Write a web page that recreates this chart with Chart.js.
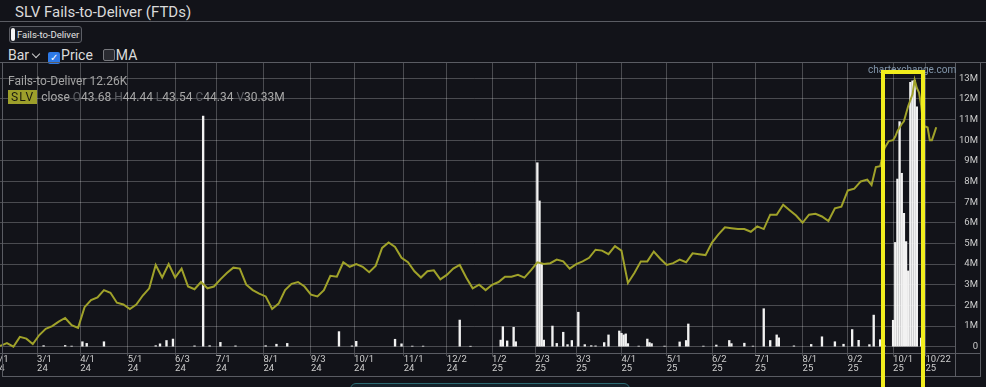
<!DOCTYPE html>
<html>
<head>
<meta charset="utf-8">
<title>SLV Fails-to-Deliver (FTDs)</title>
<script src="https://cdn.jsdelivr.net/npm/chart.js@4.4.1/dist/chart.umd.min.js"></script>
<style>
  body { margin: 0; width: 986px; height: 387px; overflow: hidden; position: relative;
         background: #121319; font-family: Roboto, Arial, sans-serif; color: #d4d4d4; }
  .abs { position: absolute; white-space: nowrap; }
  .ln { position: absolute; background: #5a5c63; }
  #title { left: 15px; top: 3px; font-size: 15px; color: #dadada; }
  #btn { left: 9px; top: 26px; width: 73px; height: 17px; box-sizing: border-box; border: 1px solid #5c5e65;
         border-radius: 3px; background: #1a1c23; font-size: 9.5px; line-height: 15px; padding-left: 7px; color: #e4e4e4; }
  #btn i { position: absolute; left: 1px; top: 1px; width: 4px; height: 13px; background: #f4f4f4; border-radius: 2px; }
  #ctrl { left: 8px; top: 47px; font-size: 14px; line-height: 16px; color: #dcdcdc; }
  .chev { display: inline-block; width: 5px; height: 5px; border-right: 1px solid #ccc; border-bottom: 1px solid #ccc;
          transform: rotate(45deg); margin: 0 9px 3px 4px; }
  .box { display: inline-block; width: 12px; height: 12px; box-sizing: border-box; border-radius: 2px; vertical-align: -1px; }
  .on { background: #2d79e6; color: #fff; font-size: 10px; line-height: 12px; text-align: center; margin-right: 1px; }
  .off { background: #2a2b31; border: 1px solid #77787d; margin-left: 10px; margin-right: 1px; }
  #chart { position: absolute; left: -6px; top: 62px; }
  #leg1 { left: 8px; top: 74px; font-size: 12px; color: #a4a4a4; }
  #leg2 { left: 8px; top: 90px; font-size: 12px; color: #a8a8a8; }
  #leg2 .tag { display: inline-block; background: #9d9f2b; color: #1b1b10; padding: 0 3px; height: 14px; line-height: 14px;
               letter-spacing: 1px; margin-right: 4px; }
  #leg2 b { font-weight: normal; color: #5e6066; }
  #wm { left: 868px; top: 64px; font-size: 10px; color: #8296aa; }
  #hl { left: 881px; top: 70px; width: 44px; height: 330px; box-sizing: border-box; border: 4px solid #f1ed1d; border-bottom: none; }
  #pager { left: 350px; top: 383px; width: 280px; height: 12px; box-sizing: border-box; border: 1px solid #2b6a72;
           border-radius: 6px; background: #14222a; }
</style>
</head>
<body>
<div id="title" class="abs">SLV Fails-to-Deliver (FTDs)</div>
<div class="ln" style="left:0;top:21px;width:986px;height:1px"></div>
<div id="btn" class="abs"><i></i>Fails-to-Deliver</div>
<div id="ctrl" class="abs">Bar<span class="chev"></span><span class="box on">&#10003;</span>Price<span class="box off"></span>MA</div>
<canvas id="chart" width="984" height="315"></canvas>
<!-- chart frame -->
<div class="ln" style="left:0;top:62px;width:986px;height:1px"></div>
<div class="ln" style="left:0;top:353px;width:981px;height:1px"></div>
<div class="ln" style="left:2px;top:376px;width:979px;height:1px"></div>
<div class="ln" style="left:2px;top:62px;width:1px;height:315px"></div>
<div class="ln" style="left:955px;top:62px;width:1px;height:315px"></div>
<div class="ln" style="left:980px;top:62px;width:1px;height:315px"></div>
<div id="leg1" class="abs">Fails-to-Deliver 12.26K</div>
<div id="leg2" class="abs"><span class="tag">SLV</span>close <b>O</b>43.68 <b>H</b>44.44 <b>L</b>43.54 <b>C</b>44.34 <b>V</b>30.33M</div>
<div id="wm" class="abs">chartexchange.com</div>
<div id="hl" class="abs"></div>
<div id="pager" class="abs"></div>
<script>
// x positions are trading-day indexes counted from 2024-02-01
const tickIdx = [0, 20, 40, 62, 84, 103, 125, 147, 167, 190, 210, 231, 251, 270, 291, 312, 333, 353, 375, 396, 417, 432];
const tickDates = ['2/1', '3/1', '4/1', '5/1', '6/3', '7/1', '8/1', '9/3', '10/1', '11/1', '12/2',
                   '1/2', '2/3', '3/3', '4/1', '5/1', '6/2', '7/1', '8/1', '9/2', '10/1', '10/22'];
const tickYears = ['24', '24', '24', '24', '24', '24', '24', '24', '24', '24', '24',
                   '25', '25', '25', '25', '25', '25', '25', '25', '25', '25', '25'];
const ftdTicks = [0, 1, 2, 3, 4, 5, 6, 7, 8, 9, 10, 11, 12, 13];

// fails-to-deliver, millions of shares
const ftdIdx = [23, 33, 36, 41, 43, 51, 75, 77, 80, 83, 93, 97, 100, 105, 112, 126, 131, 136,
                160, 166, 168, 186, 189, 194, 199, 216, 221, 235, 236, 238, 241, 242,
                252, 253, 254, 255, 259, 261, 264, 266, 268, 271, 274, 277, 279, 283, 285,
                290, 291, 292, 293, 294, 299, 303, 304, 305, 311, 318, 321, 322, 329, 335,
                341, 342, 348, 352, 357, 360, 363, 364, 371, 379, 384, 390, 394, 398, 401,
                406, 408, 411, 413, 417, 418, 419, 420, 421, 422, 423, 424, 425, 426, 427, 428, 430, 431];
const ftdM = [0.05, 0.06, 0.03, 0.24, 0.16, 0.24, 0.05, 0.14, 0.30, 0.37, 0.04, 11.17, 0.05, 0.21, 0.04, 0.05, 0.12, 0.16,
              0.73, 0.04, 0.26, 0.36, 0.14, 0.03, 0.03, 1.29, 0.02, 0.32, 0.97, 0.28, 0.94, 0.24,
              8.91, 7.06, 4.0, 0.32, 1.0, 0.16, 0.7, 0.1, 0.3, 1.67, 0.1, 0.05, 0.04, 0.2, 0.57,
              0.76, 0.65, 0.57, 0.62, 0.15, 0.03, 0.37, 0.2, 0.15, 0.03, 0.23, 0.3, 1.1, 0.03, 0.08,
              0.3, 0.15, 0.17, 0.03, 1.84, 0.3, 0.57, 0.43, 0.04, 0.11, 0.48, 0.24, 0.12, 0.83, 0.31,
              0.1, 1.53, 0.34, 0.05, 1.28, 5.05, 8.12, 10.9, 8.4, 6.46, 5.09, 3.67, 12.8, 12.88, 12.9, 11.62, 0.42, 0.05];

// SLV close, dollars
const priceIdx = [0, 3, 6, 9, 12, 15, 18, 21, 24, 27, 30, 33, 36, 39, 42, 45, 48, 51, 54, 57,
                  60, 63, 66, 69, 72, 75, 78, 81, 84, 87, 90, 93, 96, 99, 102, 105, 108, 111, 114, 117,
                  120, 123, 126, 129, 132, 135, 138, 141, 144, 147, 150, 153, 156, 159, 162, 165, 168, 171, 174, 177,
                  180, 183, 186, 189, 192, 195, 198, 201, 204, 207, 210, 213, 216, 219, 222, 225, 228, 231, 234, 237,
                  240, 243, 246, 249, 252, 255, 258, 261, 264, 267, 270, 273, 276, 279, 282, 285, 288, 291, 294, 297,
                  300, 303, 306, 309, 312, 315, 318, 321, 324, 327, 330, 333, 336, 339, 342, 345, 348, 351, 354, 357,
                  360, 363, 366, 369, 372, 375, 378, 381, 384, 387, 390, 393, 396, 399, 402, 405,
                  407, 409, 411, 413, 415, 417, 418, 419, 421, 422, 424, 426, 427, 428, 429, 430, 431, 433, 434, 435, 436, 437];
const price = [20.0, 20.0, 20.3, 19.9, 21.0, 20.8, 20.2, 21.2, 21.9, 22.2, 22.7, 23.1, 22.3, 22.0, 24.3, 25.1, 25.4, 26.2, 25.9, 24.8,
               24.6, 24.1, 24.6, 25.6, 26.4, 29.0, 27.6, 29.1, 27.6, 28.6, 26.6, 26.3, 27.1, 26.4, 26.6, 27.4, 28.1, 28.7, 28.6, 26.8,
               26.2, 25.8, 25.5, 24.1, 24.7, 26.2, 26.9, 27.1, 26.6, 25.7, 25.5, 26.2, 27.8, 27.7, 29.3, 28.8, 29.1, 28.8, 28.2, 28.9,
               30.9, 31.5, 31.0, 29.8, 29.3, 28.3, 27.6, 28.3, 28.4, 27.4, 27.9, 28.6, 29.0, 27.6, 26.4, 26.8, 26.2, 26.8, 27.1, 27.7,
               27.7, 27.9, 27.6, 28.4, 29.3, 29.1, 29.2, 29.6, 29.4, 28.6, 29.1, 29.4, 29.8, 30.7, 30.6, 30.2, 31.1, 30.6, 27.0, 28.1,
               29.4, 29.4, 30.5, 29.7, 29.0, 29.2, 29.6, 29.3, 30.3, 30.2, 30.1, 31.5, 32.4, 33.2, 33.1, 33.0, 33.0, 32.7, 33.3, 33.0,
               34.6, 34.6, 35.7, 35.1, 34.5, 33.7, 34.6, 34.7, 34.4, 33.9, 35.3, 35.5, 37.3, 37.5, 38.3, 38.5,
               37.9, 39.9, 40.0, 42.0, 42.8, 42.9, 43.3, 43.9, 44.7, 45.0, 46.7, 48.0, 49.6, 48.7, 48.2, 46.8, 44.5, 44.3, 42.9, 42.9, 43.6, 44.34];

const gridColor = 'rgba(255,255,255,0.24)';
const labelColor = '#cdcdcd';

// keep the plot box where the page puts it: no extra room for edge labels
const noPad = s => { s.paddingTop = 0; s.paddingBottom = 0; s.paddingLeft = 0; s.paddingRight = 0; };

Chart.defaults.font.family = 'Roboto, Arial, sans-serif';

new Chart(document.getElementById('chart'), {
  type: 'bar',
  data: {
    datasets: [
      {
        type: 'line',
        label: 'Price',
        data: priceIdx.map((x, i) => ({ x: x, y: price[i] })),
        yAxisID: 'p',
        borderColor: '#a0a22a',
        borderWidth: 2,
        pointRadius: 0,
        tension: 0,
        order: 0
      },
      {
        label: 'Fails-to-Deliver',
        data: ftdIdx.map((x, i) => ({ x: x, y: ftdM[i] })),
        yAxisID: 'y',
        backgroundColor: '#f2f2f2',
        barThickness: 1.7,
        order: 1
      }
    ]
  },
  options: {
    responsive: false,
    animation: false,
    devicePixelRatio: 1,
    layout: { padding: 0 },
    plugins: { legend: { display: false }, tooltip: { enabled: false } },
    scales: {
      x: {
        type: 'linear',
        min: 0,
        max: 445.7,
        offset: false,
        afterBuildTicks: s => { s.ticks = tickIdx.map(v => ({ value: v })); },
        afterFit: s => { s.height = 24; noPad(s); },
        grid: { color: gridColor, tickLength: 3, offset: false },
        border: { display: false },
        ticks: {
          autoSkip: false,
          maxRotation: 0,
          align: 'start',
          padding: -1,
          color: labelColor,
          font: { size: 9.5, lineHeight: 0.95 },
          callback: (v, i) => [tickDates[i], tickYears[i]]
        }
      },
      y: {
        position: 'right',
        min: -0.305,
        max: 13.79,
        afterBuildTicks: s => { s.ticks = ftdTicks.map(v => ({ value: v })); },
        afterFit: s => { s.width = 23; noPad(s); },
        grid: { color: gridColor, drawTicks: false },
        border: { display: false },
        ticks: {
          crossAlign: 'far',
          padding: 0,
          color: labelColor,
          font: { size: 9.5 },
          callback: v => (v === 0 ? '0' : v + 'M')
        }
      },
      p: { display: false, min: 19.2, max: 51.6 }
    }
  }
});
</script>
</body>
</html>
